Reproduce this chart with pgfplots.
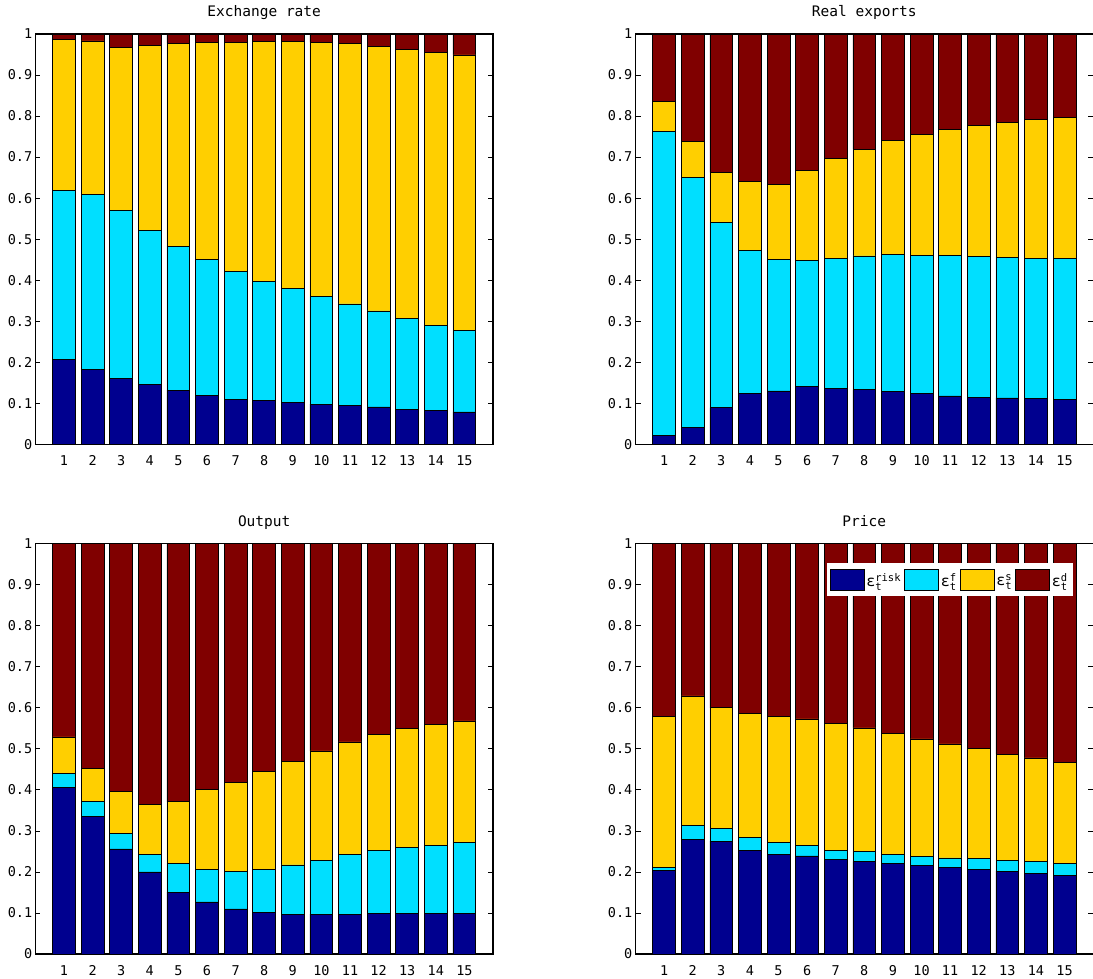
\documentclass[border=0pt]{standalone}
\usepackage{pgfplots}
\usepackage{pgfplotstable}
\pgfplotsset{compat=1.18}
\usepackage{fontspec}
\setmainfont{DejaVu Sans Mono}

\definecolor{cRisk}{RGB}{0,0,143}
\definecolor{cF}{RGB}{0,223,255}
\definecolor{cS}{RGB}{255,207,0}
\definecolor{cD}{RGB}{128,0,0}

% Variance shares by horizon: risk, foreign, supply, demand shocks
\pgfplotstableread{
h  n     c     s     d
1  0.206 0.412 0.369 0.013
2  0.183 0.426 0.374 0.017
3  0.161 0.408 0.399 0.032
4  0.145 0.377 0.450 0.028
5  0.132 0.351 0.494 0.023
6  0.120 0.331 0.528 0.021
7  0.110 0.311 0.559 0.020
8  0.106 0.291 0.585 0.018
9  0.102 0.277 0.603 0.018
10 0.098 0.262 0.620 0.020
11 0.095 0.247 0.634 0.024
12 0.091 0.234 0.645 0.030
13 0.086 0.220 0.657 0.037
14 0.082 0.208 0.665 0.045
15 0.079 0.198 0.672 0.051
}\exrate

\pgfplotstableread{
h  n     c     s     d
1  0.021 0.742 0.072 0.165
2  0.041 0.610 0.087 0.262
3  0.089 0.451 0.123 0.337
4  0.123 0.349 0.168 0.360
5  0.130 0.321 0.183 0.366
6  0.140 0.308 0.219 0.333
7  0.137 0.317 0.242 0.304
8  0.133 0.326 0.260 0.281
9  0.128 0.335 0.277 0.260
10 0.123 0.338 0.294 0.245
11 0.118 0.342 0.308 0.232
12 0.115 0.342 0.320 0.223
13 0.113 0.343 0.329 0.215
14 0.111 0.342 0.338 0.209
15 0.110 0.342 0.345 0.203
}\realexp

\pgfplotstableread{
h  n     c     s     d
1  0.406 0.034 0.089 0.471
2  0.336 0.035 0.082 0.547
3  0.256 0.037 0.104 0.603
4  0.200 0.043 0.121 0.636
5  0.151 0.070 0.150 0.629
6  0.127 0.080 0.194 0.599
7  0.110 0.091 0.218 0.581
8  0.102 0.104 0.238 0.556
9  0.097 0.120 0.253 0.530
10 0.097 0.131 0.267 0.505
11 0.097 0.146 0.274 0.483
12 0.098 0.155 0.282 0.465
13 0.099 0.161 0.289 0.451
14 0.099 0.166 0.295 0.440
15 0.099 0.172 0.297 0.432
}\output

\pgfplotstableread{
h  n     c     s     d
1  0.204 0.008 0.368 0.420
2  0.280 0.033 0.316 0.371
3  0.275 0.031 0.294 0.400
4  0.253 0.032 0.301 0.414
5  0.243 0.029 0.306 0.422
6  0.239 0.025 0.309 0.427
7  0.231 0.022 0.309 0.438
8  0.226 0.023 0.302 0.449
9  0.221 0.022 0.295 0.462
10 0.216 0.022 0.286 0.476
11 0.212 0.022 0.278 0.488
12 0.207 0.026 0.267 0.500
13 0.202 0.027 0.258 0.513
14 0.197 0.028 0.253 0.522
15 0.192 0.029 0.245 0.534
}\price

\pgfplotsset{
  decomp/.style={
    scale only axis, width=457.6pt, height=410.3pt,
    anchor=south west,
    ybar stacked, bar width=0.8,
    xmin=0, xmax=16, ymin=0, ymax=1,
    xtick={1,...,15},
    ytick={0,0.1,0.2,0.3,0.4,0.5,0.6,0.7,0.8,0.9,1},
    yticklabels={0,0.1,0.2,0.3,0.4,0.5,0.6,0.7,0.8,0.9,1},
    tick align=inside, major tick length=5pt,
    tick style={black, line width=0.8pt},
    axis line style={line width=1.2pt},
    /pgf/number format/assume math mode=true,
    tick label style={font=\fontsize{13.5}{15}\selectfont},
    xticklabel style={inner sep=0pt, anchor=north, yshift=-11pt},
    yticklabel style={inner sep=0pt, anchor=east, xshift=-3pt},
    title style={at={(0.5,1)}, anchor=base, yshift=11pt,
                 font=\fontsize{14.5}{16}\selectfont},
    every axis plot/.append style={draw=black, line width=0.7pt},
  },
}

\newcommand{\stackbars}[1]{%
  \addplot[fill=cRisk] table[x=h, y=n] {#1};
  \addplot[fill=cF]    table[x=h, y=c] {#1};
  \addplot[fill=cS]    table[x=h, y=s] {#1};
  \addplot[fill=cD]    table[x=h, y=d] {#1};
}

\begin{document}
\begin{tikzpicture}
\useasboundingbox (0pt,0pt) rectangle (1093pt,979pt);

\begin{axis}[decomp, at={(35.4pt,534.7pt)}, title={Exchange rate}]
\stackbars{\exrate}
\end{axis}

\begin{axis}[decomp, at={(635.5pt,534.7pt)}, title={Real exports}]
\stackbars{\realexp}
\end{axis}

\begin{axis}[decomp, at={(35.4pt,25pt)}, title={Output}]
\stackbars{\output}
\end{axis}

\begin{axis}[decomp, at={(635.5pt,25pt)}, title={Price},
  legend columns=4,
  legend style={at={(0.956,0.9545)}, anchor=north east,
    draw=none, fill=white, inner xsep=3pt, inner ysep=6pt,
    font=\fontsize{15}{16}\selectfont,
    /tikz/every even column/.append style={column sep=1pt},
    /tikz/every odd column/.append style={column sep=0pt}},
  legend image code/.code={\draw[#1, line width=0.7pt] (0pt,-9pt) rectangle (34pt,12pt);},
]
\stackbars{\price}
\legend{ε$_{\mathrm{t}}^{\mathrm{risk}}$,
        ε$_{\mathrm{t}}^{\mathrm{f}}$,
        ε$_{\mathrm{t}}^{\mathrm{s}}$,
        ε$_{\mathrm{t}}^{\mathrm{d}}$}
\end{axis}
\end{tikzpicture}
\end{document}
